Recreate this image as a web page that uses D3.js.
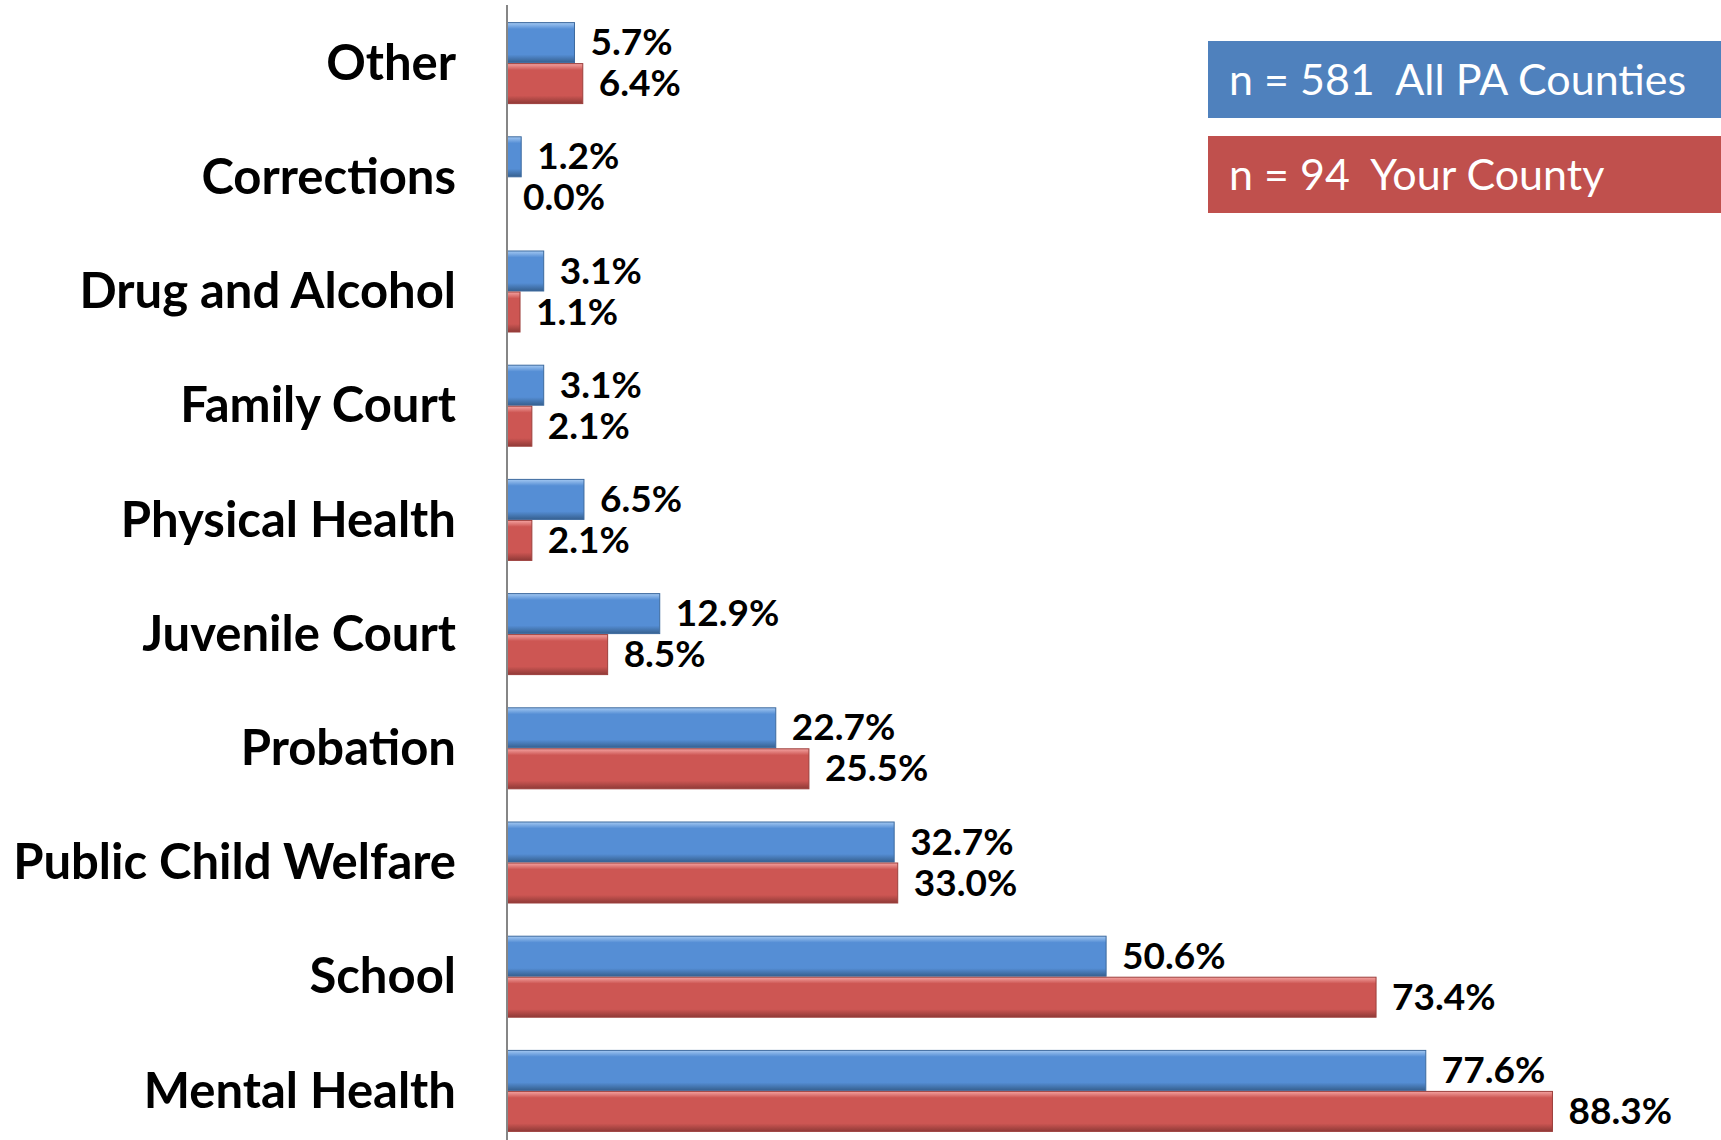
<!DOCTYPE html>
<html>
<head>
<meta charset="utf-8">
<script src="https://cdn.jsdelivr.net/npm/d3@7"></script>
<style>
  body { margin: 0; background: #fff; }
  svg { display: block; font-family: Lato, "Open Sans", sans-serif; }
  .legend text { white-space: pre; }
</style>
</head>
<body>
<script>
// chart data
var categories = ["Other", "Corrections", "Drug and Alcohol", "Family Court", "Physical Health",
                  "Juvenile Court", "Probation", "Public Child Welfare", "School", "Mental Health"];
var allCounties = [5.7, 1.2, 3.1, 3.1, 6.5, 12.9, 22.7, 32.7, 50.6, 77.6];
var yourCounty = [6.4, 0.0, 1.1, 2.1, 2.1, 8.5, 25.5, 33.0, 73.4, 88.3];
var seriesNames = ["n = 581  All PA Counties", "n = 94  Your County"];

var w = 1721,
	h = 1140,
	x0 = 507;

var svg = d3.select("body")
	.append("svg")
	.attr("width", w)
	.attr("height", h);

var defs = svg.append("defs");

function bevel(id, light, mid, dark){
	var g = defs.append("linearGradient")
		.attr("id", id)
		.attr("x1", 0).attr("y1", 0).attr("x2", 0).attr("y2", 1);
	g.append("stop").attr("offset", "0%").attr("stop-color", light);
	g.append("stop").attr("offset", "16%").attr("stop-color", mid);
	g.append("stop").attr("offset", "80%").attr("stop-color", mid);
	g.append("stop").attr("offset", "100%").attr("stop-color", dark);
}
bevel("gBlue", "#a3c8f2", "#558ed5", "#36608f");
bevel("gRed", "#f4a3a1", "#cd5653", "#8f3a37");

var x = d3.scaleLinear()
	.domain([0, 100])
	.range([x0, 1691]);

var y = d3.scaleBand()
	.domain(categories)
	.range([6, 1148])
	.paddingInner(0.282)
	.paddingOuter(0.141);

var ySub = d3.scaleBand()
	.domain([0, 1])
	.range([0, y.bandwidth()]);

var rows = categories.map(function(c, i){
	return { cat: c, vals: [allCounties[i], yourCounty[i]] };
});

var group = svg.selectAll("g.row")
	.data(rows)
	.enter()
	.append("g")
	.attr("class", "row")
	.attr("transform", function(d){ return "translate(0," + y(d.cat) + ")"; });

var fills = ["url(#gBlue)", "url(#gRed)"],
	strokes = ["#3d6a9e", "#9c3f3c"];

var bars = group.selectAll("g.bar")
	.data(function(d){ return d.vals.map(function(v, j){ return { v: v, j: j }; }); })
	.enter()
	.append("g")
	.attr("class", "bar");

bars.filter(function(d){ return d.v > 0; })
	.append("rect")
	.attr("x", x(0))
	.attr("y", function(d){ return ySub(d.j) + 0.5; })
	.attr("width", function(d){ return x(d.v) - x(0); })
	.attr("height", ySub.bandwidth() - 1)
	.attr("fill", function(d){ return fills[d.j]; })
	.attr("stroke", function(d){ return strokes[d.j]; })
	.attr("stroke-width", 1);

bars.append("text")
	.attr("x", function(d){ return x(d.v) + 16; })
	.attr("y", function(d){ return ySub(d.j) + ySub.bandwidth() / 2; })
	.attr("dy", "0.34em")
	.attr("font-size", 37)
	.attr("font-weight", "bold")
	.attr("fill", "#000")
	.text(function(d){ return d.v.toFixed(1) + "%"; });

// category labels
svg.append("g")
	.selectAll("text")
	.data(categories)
	.enter()
	.append("text")
	.attr("x", 456)
	.attr("y", function(d){ return y(d) + y.bandwidth() / 2; })
	.attr("dy", "0.34em")
	.attr("text-anchor", "end")
	.attr("font-size", 49)
	.attr("font-weight", "bold")
	.attr("fill", "#000")
	.text(function(d){ return d; });

// axis line
svg.append("line")
	.attr("x1", x0).attr("x2", x0)
	.attr("y1", 5).attr("y2", h)
	.attr("stroke", "#868686")
	.attr("stroke-width", 2);

// legend
var legend = svg.selectAll("g.legend")
	.data(seriesNames)
	.enter()
	.append("g")
	.attr("class", "legend")
	.attr("transform", function(d, i){ return "translate(1208," + (41 + i * 95) + ")"; });

legend.append("rect")
	.attr("width", w - 1208)
	.attr("height", 77)
	.attr("fill", function(d, i){ return ["#4f81bd", "#c0504d"][i]; });

legend.append("text")
	.attr("x", 21)
	.attr("y", 39)
	.attr("dy", "0.36em")
	.attr("font-size", 43)
	.attr("fill", "#fff")
	.text(function(d){ return d; });
</script>
</body>
</html>
